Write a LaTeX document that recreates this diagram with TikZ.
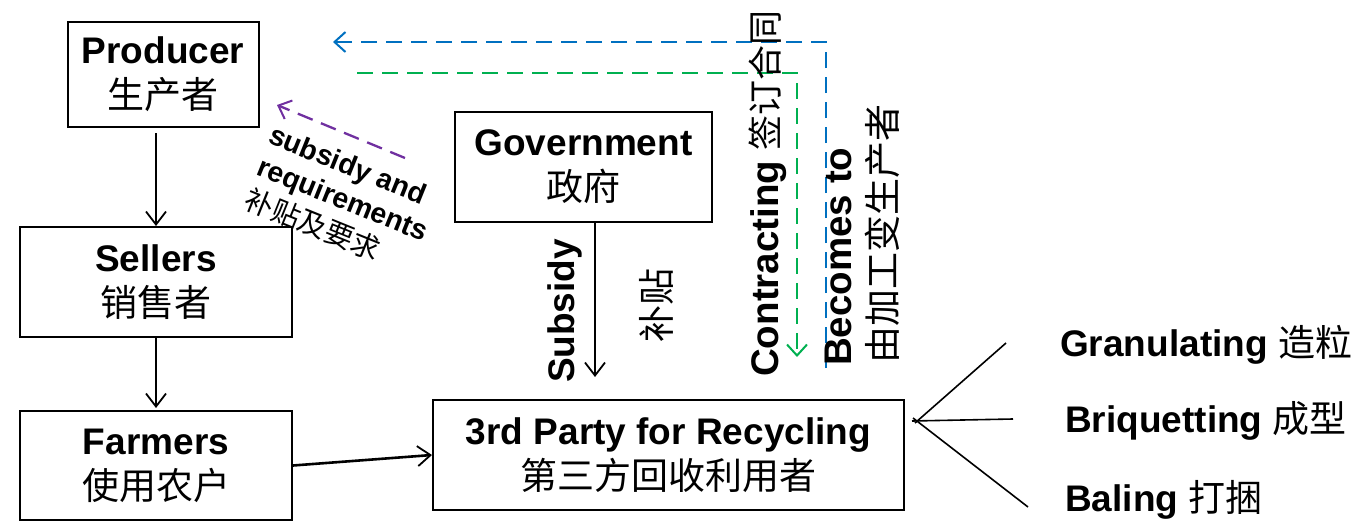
\documentclass[tikz,border=0pt]{standalone}
\usepackage{fontspec}
\setmainfont{Liberation Sans}
\newfontfamily\cjk{Noto Sans CJK SC}
\usetikzlibrary{arrows.meta}
\definecolor{oblue}{RGB}{0,112,192}
\definecolor{ogreen}{RGB}{0,176,80}
\definecolor{opurple}{RGB}{112,48,160}
\tikzset{
  box/.style={draw,line width=2pt,align=center,inner sep=0pt,
    font=\fontsize{37}{45}\selectfont},
  arr/.style={line width=1.8pt,-{Straight Barb[length=13pt,width=20pt,line width=1.8pt]}},
  dsh/.style={line width=2.3pt,dash pattern=on 16pt off 9pt},
  big/.style={font=\fontsize{37}{45}\selectfont,inner sep=0pt},
  mid/.style={font=\fontsize{28.5}{32}\selectfont,inner sep=0pt,rotate=-22},
  fan/.style={line width=1.6pt}
}
\begin{document}
\begin{tikzpicture}[x=1pt,y=-1pt]
\useasboundingbox (0,0) rectangle (1361,522);
% boxes
\node[box,minimum width=191pt,minimum height=105pt] (prod) at (163,74.5) {\bfseries Producer\\{\cjk 生产者}};
\node[box,minimum width=272pt,minimum height=110pt] (sell) at (156,282) {\bfseries Sellers\\{\cjk 销售者}};
\node[box,minimum width=272pt,minimum height=109pt] (farm) at (156,465.5) {\bfseries Farmers\\{\cjk 使用农户}};
\node[box,minimum width=257pt,minimum height=110pt] (gov) at (583.5,167) {\bfseries Government\\{\cjk 政府}};
\node[box,minimum width=471pt,minimum height=110pt] (third) at (668.5,455) {\bfseries 3rd Party for Recycling\\{\cjk 第三方回收利用者}};
% black arrows
\draw[arr,shorten <=5pt] (prod.south -| sell) -- (sell.north);
\draw[arr,shorten >=2pt] (sell.south) -- (farm.north);
\draw[arr,line width=2.6pt] (farm.east) -- (third.west);
\draw[arr,shorten >=22pt] ([xshift=11.5pt]gov.south) -- ([xshift=-73.5pt]third.north);
% subsidy labels
\node[big,rotate=90,font=\fontsize{37}{45}\selectfont\bfseries] (sublab) at (565,311) {Subsidy};
\node[big,rotate=90] (subcn) at (656,305) {\cjk 补贴};
% dashed connectors
\coordinate (bstart) at (826,368);
\coordinate (bcorner) at (826,42);
\coordinate (bend) at (333,42);
\draw[dsh,oblue,-{Straight Barb[length=11pt,width=20pt,line width=2pt]}] (bstart) -- (bcorner) -- (bend);
\coordinate (gstart) at (357,73);
\coordinate (gcorner) at (797,73);
\coordinate (gend) at (797,357);
\draw[dsh,ogreen,-{Straight Barb[length=11pt,width=20pt,line width=2pt]}] (gstart) -- (gcorner) -- (gend);
\coordinate (pstart) at (405,158);
\coordinate (pend) at (277,105);
\draw[dsh,opurple,-{Straight Barb[length=11pt,width=20pt,line width=2pt]}] (pstart) -- (pend);
% rotated labels
\node[big,rotate=90,anchor=west] (contr) at (768,377) {\fontsize{38.5}{45}\selectfont\bfseries Contracting {\cjk\mdseries\fontsize{35}{45}\selectfont 签订合同}};
\node[big,rotate=90,anchor=west] (becom) at (838,366) {\fontsize{38.5}{45}\selectfont\bfseries Becomes to};
\node[big,rotate=90,anchor=west] (becomcn) at (882,364) {\cjk 由加工变生产者};
% subsidy and requirements
\node[mid,font=\fontsize{28.5}{32}\selectfont\bfseries] (sr1) at (347,167) {subsidy and};
\node[mid,font=\fontsize{28.5}{32}\selectfont\bfseries] (sr2) at (342,201) {requirements};
\node[mid] (sr3) at (313,224) {\cjk 补贴及要求};
% fan
\coordinate (f0) at (915,423);
\coordinate (f1) at (1006,343);
\coordinate (f2) at (1013,419);
\coordinate (f3) at (1028,507);
\draw[fan] (f0) -- (f1);
\draw[fan] ([xshift=-3pt,yshift=2pt]f0) -- (f2);
\draw[fan] ([xshift=-2pt,yshift=5pt]f0) -- (f3);
\node[big,anchor=west] (gran) at (1060,345) {\bfseries Granulating {\cjk\mdseries 造粒}};
\node[big,anchor=west] (briq) at (1065,421) {\bfseries Briquetting {\cjk\mdseries 成型}};
\node[big,anchor=west] (bal) at (1065,500) {\bfseries Baling {\cjk\mdseries 打捆}};
\end{tikzpicture}
\end{document}
